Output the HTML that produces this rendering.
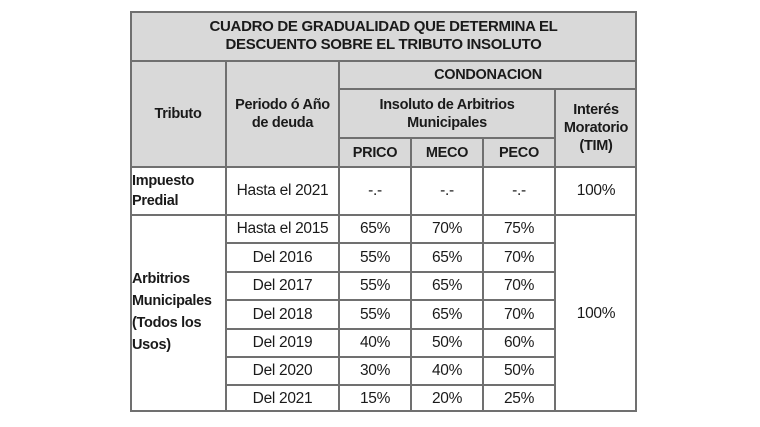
<!DOCTYPE html>
<html><head><meta charset="utf-8"><style>
html,body{margin:0;padding:0;background:#fff;width:760px;height:427px;overflow:hidden}
.c{position:absolute;box-sizing:border-box;display:flex;align-items:center;justify-content:center;text-align:center;font-family:"Liberation Sans",Arial,sans-serif;font-size:15.5px;color:#1a1a1a;line-height:18px;letter-spacing:-0.3px}
.h{background:#d9d9d9;font-weight:bold;font-size:14.5px}
.b{font-weight:bold;font-size:14.5px}
.l{justify-content:flex-start;text-align:left;padding-left:2px}
#t{position:absolute;left:130px;top:11px;width:507px;height:401px;border:2px solid #707070;box-sizing:border-box}
.ln{position:absolute;background:#707070}
</style></head><body>
<div class="c h" style="left:130px;top:11px;width:507px;height:50px;font-size:15px">CUADRO DE GRADUALIDAD QUE DETERMINA EL<br>DESCUENTO SOBRE EL TRIBUTO INSOLUTO</div>
<div class="c h" style="left:130px;top:61px;width:96px;height:106px">Tributo</div>
<div class="c h" style="left:226px;top:61px;width:113px;height:106px">Periodo ó Año<br>de deuda</div>
<div class="c h" style="left:339px;top:61px;width:298px;height:28px">CONDONACION</div>
<div class="c h" style="left:339px;top:89px;width:216px;height:49px">Insoluto de Arbitrios<br>Municipales</div>
<div class="c h" style="left:555px;top:89px;width:82px;height:78px">Interés<br>Moratorio<br>(TIM)</div>
<div class="c h" style="left:339px;top:138px;width:72px;height:29px">PRICO</div>
<div class="c h" style="left:411px;top:138px;width:72px;height:29px">MECO</div>
<div class="c h" style="left:483px;top:138px;width:72px;height:29px">PECO</div>

<div class="c b l" style="left:130px;top:167px;width:96px;height:48px;line-height:20px">Impuesto<br>Predial</div>
<div class="c" style="left:226px;top:167px;width:113px;height:48px">Hasta el 2021</div>
<div class="c" style="left:339px;top:167px;width:72px;height:48px">-.-</div>
<div class="c" style="left:411px;top:167px;width:72px;height:48px">-.-</div>
<div class="c" style="left:483px;top:167px;width:72px;height:48px">-.-</div>
<div class="c" style="left:555px;top:167px;width:82px;height:48px">100%</div>

<div class="c b l" style="left:130px;top:213px;width:96px;height:197px;line-height:22px">Arbitrios<br>Municipales<br>(Todos los<br>Usos)</div>
<div class="c" style="left:555px;top:215px;width:82px;height:197px">100%</div>

<div class="c" style="left:226px;top:215px;width:113px;height:28px">Hasta el 2015</div>
<div class="c" style="left:339px;top:215px;width:72px;height:28px">65%</div><div class="c" style="left:411px;top:215px;width:72px;height:28px">70%</div><div class="c" style="left:483px;top:215px;width:72px;height:28px">75%</div>
<div class="c" style="left:226px;top:243px;width:113px;height:29px">Del 2016</div>
<div class="c" style="left:339px;top:243px;width:72px;height:29px">55%</div><div class="c" style="left:411px;top:243px;width:72px;height:29px">65%</div><div class="c" style="left:483px;top:243px;width:72px;height:29px">70%</div>
<div class="c" style="left:226px;top:272px;width:113px;height:28px">Del 2017</div>
<div class="c" style="left:339px;top:272px;width:72px;height:28px">55%</div><div class="c" style="left:411px;top:272px;width:72px;height:28px">65%</div><div class="c" style="left:483px;top:272px;width:72px;height:28px">70%</div>
<div class="c" style="left:226px;top:300px;width:113px;height:29px">Del 2018</div>
<div class="c" style="left:339px;top:300px;width:72px;height:29px">55%</div><div class="c" style="left:411px;top:300px;width:72px;height:29px">65%</div><div class="c" style="left:483px;top:300px;width:72px;height:29px">70%</div>
<div class="c" style="left:226px;top:329px;width:113px;height:28px">Del 2019</div>
<div class="c" style="left:339px;top:329px;width:72px;height:28px">40%</div><div class="c" style="left:411px;top:329px;width:72px;height:28px">50%</div><div class="c" style="left:483px;top:329px;width:72px;height:28px">60%</div>
<div class="c" style="left:226px;top:357px;width:113px;height:28px">Del 2020</div>
<div class="c" style="left:339px;top:357px;width:72px;height:28px">30%</div><div class="c" style="left:411px;top:357px;width:72px;height:28px">40%</div><div class="c" style="left:483px;top:357px;width:72px;height:28px">50%</div>
<div class="c" style="left:226px;top:385px;width:113px;height:27px">Del 2021</div>
<div class="c" style="left:339px;top:385px;width:72px;height:27px">15%</div><div class="c" style="left:411px;top:385px;width:72px;height:27px">20%</div><div class="c" style="left:483px;top:385px;width:72px;height:27px">25%</div>

<div id="t"></div>
<div class="ln" style="left:130px;top:60px;width:507px;height:2px"></div>
<div class="ln" style="left:339px;top:88px;width:298px;height:2px"></div>
<div class="ln" style="left:339px;top:137px;width:216px;height:2px"></div>
<div class="ln" style="left:130px;top:166px;width:507px;height:2px"></div>
<div class="ln" style="left:130px;top:214px;width:507px;height:2px"></div>
<div class="ln" style="left:226px;top:242px;width:329px;height:2px"></div>
<div class="ln" style="left:226px;top:271px;width:329px;height:2px"></div>
<div class="ln" style="left:226px;top:299px;width:329px;height:2px"></div>
<div class="ln" style="left:226px;top:328px;width:329px;height:2px"></div>
<div class="ln" style="left:226px;top:356px;width:329px;height:2px"></div>
<div class="ln" style="left:226px;top:384px;width:329px;height:2px"></div>
<div class="ln" style="left:225px;top:61px;width:2px;height:351px"></div>
<div class="ln" style="left:338px;top:61px;width:2px;height:351px"></div>
<div class="ln" style="left:410px;top:138px;width:2px;height:274px"></div>
<div class="ln" style="left:482px;top:138px;width:2px;height:274px"></div>
<div class="ln" style="left:554px;top:89px;width:2px;height:323px"></div>
</body></html>
